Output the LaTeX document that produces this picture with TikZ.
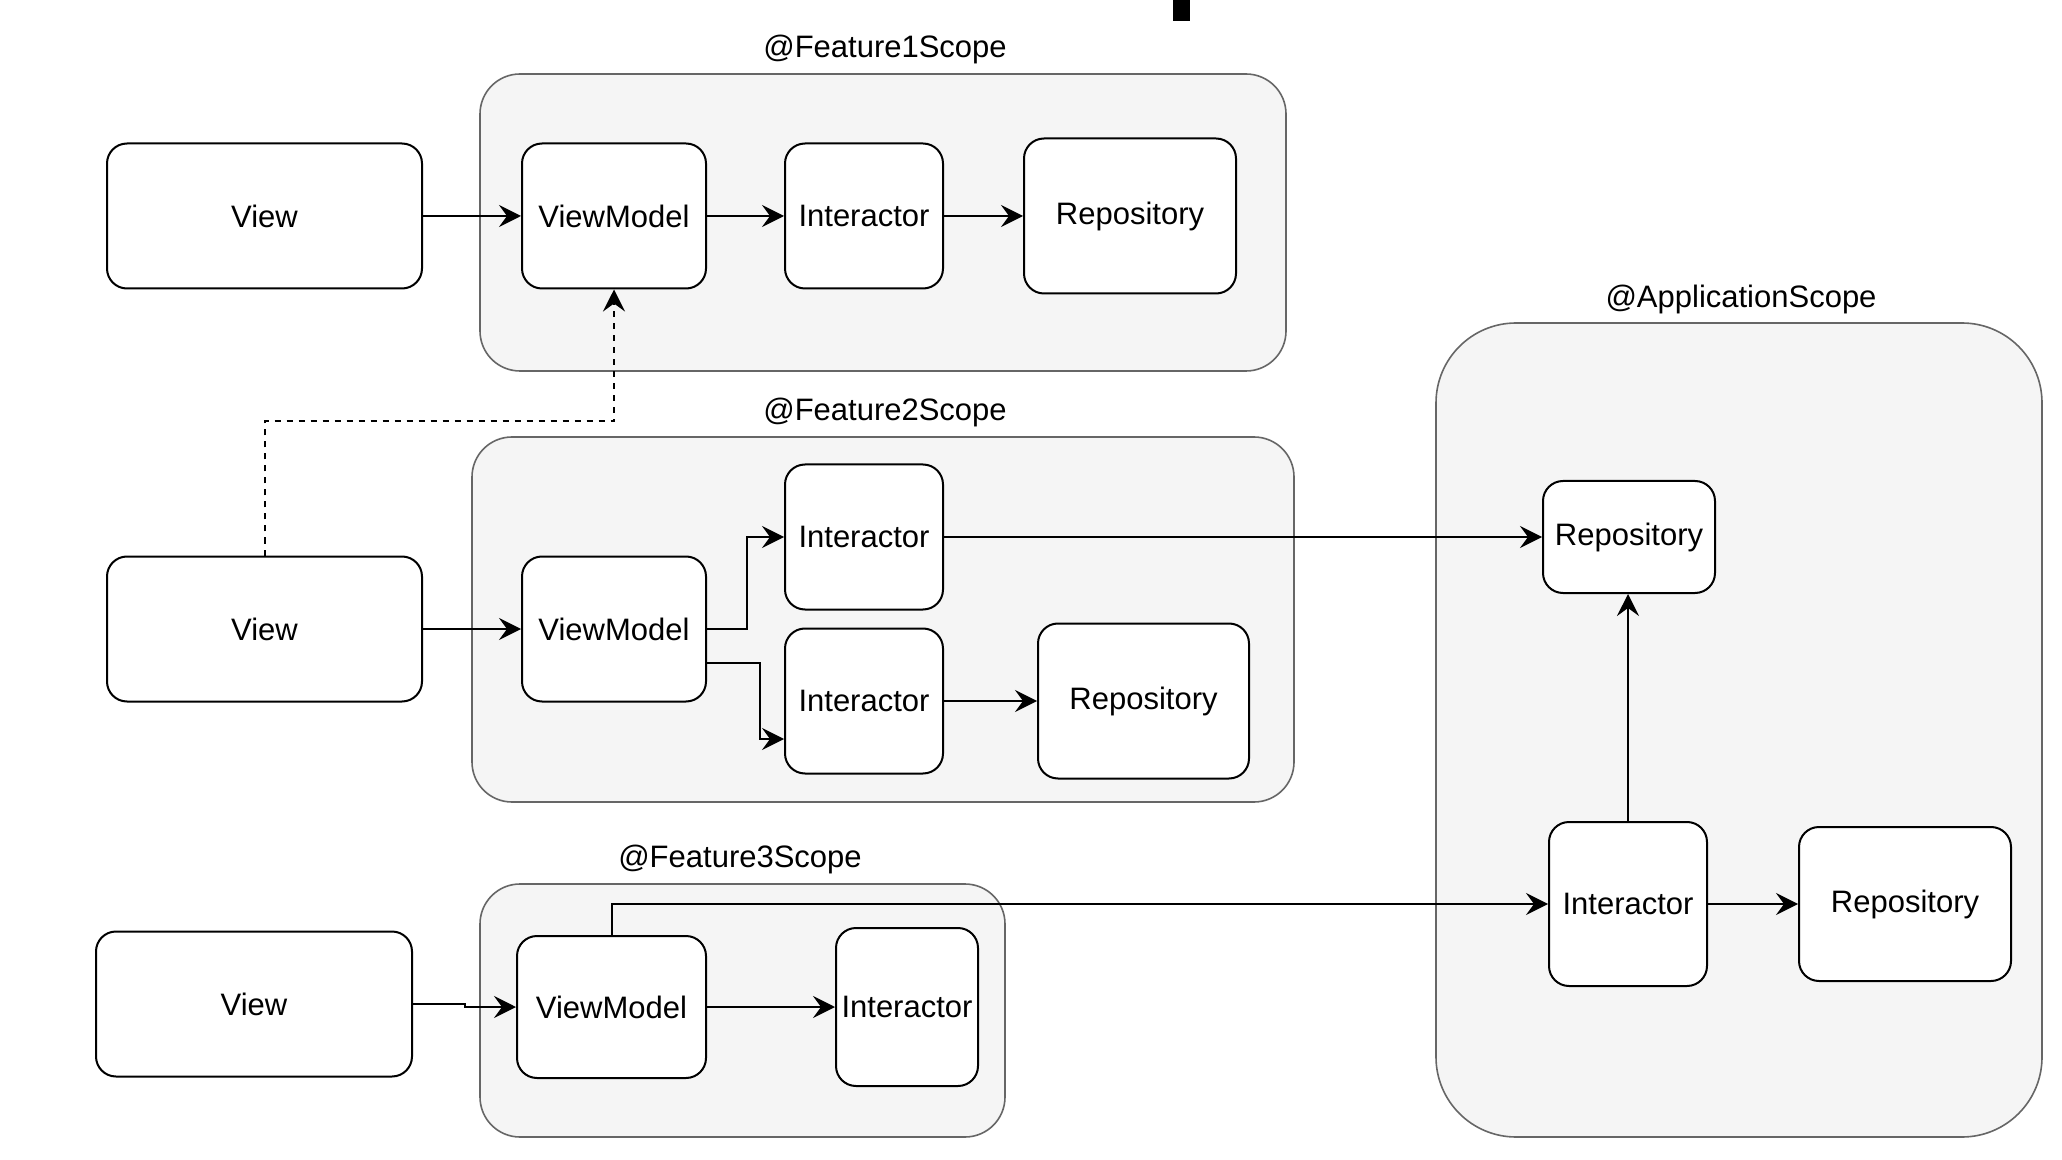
\documentclass[tikz,border=0pt]{standalone}
\usepackage{fontspec}
\setmainfont{Liberation Sans}
\usetikzlibrary{arrows.meta}
\definecolor{scopefill}{HTML}{F5F5F5}
\definecolor{scopeline}{HTML}{666666}
\tikzset{
  box/.style={draw=black, line width=1pt, fill=white, rounded corners=10pt, inner sep=0pt, font=\fontsize{15.5pt}{18pt}\selectfont},
  scopebox/.style={draw=scopeline, line width=0.8pt, fill=scopefill, rounded corners=20pt},
  scopelabel/.style={inner sep=0pt, font=\fontsize{15.5pt}{18pt}\selectfont},
  conn/.style={draw=black, line width=1pt, -{Stealth[length=11pt,width=11pt,inset=4pt]}},
  dconn/.style={conn, dash pattern=on 3pt off 3pt}
}
\begin{document}
\begin{tikzpicture}[x=0.5pt,y=-0.5pt]
\useasboundingbox (0,0) rectangle (2062,1160);
\fill[white] (0,0) rectangle (2062,1160);
% stray mark at top
\fill[black] (1173,0) rectangle (1190,21);

% scope containers
\draw[scopebox] (480,74) rectangle (1286,371);
\draw[scopebox] (472,437) rectangle (1294,802);
\draw[scopebox] (480,884) rectangle (1005,1137);
\draw[scopebox, rounded corners=40pt] (1436,323) rectangle (2042,1137);

\node[scopelabel] (l1) at (885,49) {@Feature1Scope};
\node[scopelabel] (l2) at (885,412) {@Feature2Scope};
\node[scopelabel] (l3) at (740,859) {@Feature3Scope};
\node[scopelabel] (la) at (1741,299) {@ApplicationScope};

% feature 1
\node[box, minimum width=157.5pt, minimum height=72.5pt] (view1) at (264.5,216) {View};
\node[box, minimum width=92pt, minimum height=72.5pt] (vm1) at (614,216) {ViewModel};
\node[box, minimum width=79pt, minimum height=72.5pt] (int1) at (864,216) {Interactor};
\node[box, minimum width=106pt, minimum height=77.5pt] (repo1) at (1130,216) {Repository};

% feature 2
\node[box, minimum width=157.5pt, minimum height=72.5pt] (view2) at (264.5,629) {View};
\node[box, minimum width=92pt, minimum height=72.5pt] (vm2) at (614,629) {ViewModel};
\node[box, minimum width=79pt, minimum height=72.5pt] (int2a) at (864,537) {Interactor};
\node[box, minimum width=79pt, minimum height=72.5pt] (int2b) at (864,701) {Interactor};
\node[box, minimum width=105.5pt, minimum height=77.5pt] (repo2) at (1143.5,701) {Repository};

% feature 3
\node[box, minimum width=158pt, minimum height=72.5pt] (view3) at (254,1004) {View};
\node[box, minimum width=94.5pt, minimum height=71pt] (vm3) at (611.5,1007) {ViewModel};
\node[box, minimum width=71pt, minimum height=79pt] (int3) at (907,1007) {Interactor};

% application scope
\node[box, minimum width=86pt, minimum height=56pt] (arepo1) at (1629,537) {Repository};
\node[box, minimum width=79pt, minimum height=82pt] (aint) at (1628,904) {Interactor};
\node[box, minimum width=106pt, minimum height=77pt] (arepo2) at (1905,904) {Repository};

% connectors feature 1
\draw[conn] (view1.east) -- (vm1.west);
\draw[conn] (vm1.east) -- (int1.west);
\draw[conn] (int1.east) -- (repo1.west);

% dashed dependency
\draw[dconn] (view2.north) -- ++(0,67pt) -| (vm1.south);

% connectors feature 2
\draw[conn] (view2.east) -- (vm2.west);
\draw[conn] (vm2.east) -- ++(20pt,0) |- (int2a.west);
\draw[conn] ([yshift=-17pt]vm2.east) -- ++(26.5pt,0) |- ([yshift=-19pt]int2b.west);
\draw[conn] (int2b.east) -- (repo2.west);
\draw[conn] (int2a.east) -- (int2a.east -| arepo1.west);

% connectors feature 3
\draw[conn] (view3.east) -- ++(26pt,0) |- (vm3.west);
\draw[conn] (vm3.east) -- (int3.west);
\draw[conn] (vm3.north) |- (aint.west);

% application scope
\draw[conn] (aint.north) -- (aint.north |- arepo1.south);
\draw[conn] (aint.east) -- (arepo2.west);
\end{tikzpicture}
\end{document}
